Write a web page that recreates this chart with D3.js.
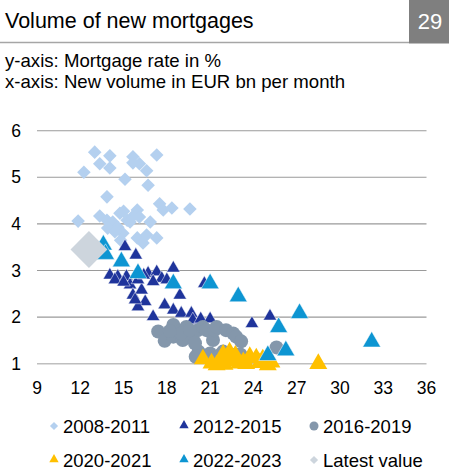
<!DOCTYPE html>
<html>
<head>
<meta charset="utf-8">
<script src="https://cdn.jsdelivr.net/npm/d3@7"></script>
<style>
  body { margin: 0; background: #fff; }
  svg { display: block; font-family: "Liberation Sans", Arial, sans-serif; }
</style>
</head>
<body>
<div id="chart"></div>
<script>
// series: [volume EUR bn, mortgage rate %]
const s2008 = [[13.0,5.54],[14.05,5.46],[13.35,5.29],[14.05,5.2],[12.25,5.11],[15.65,5.44],[16.1,5.29],[15.65,5.31],[17.3,5.48],[16.6,5.14],[15.1,4.96],[16.7,4.83],[13.85,4.58],[11.85,4.06],[13.35,4.17],[13.85,4.08],[14.75,4.23],[14.25,4.04],[15.25,4.08],[15.95,4.3],[16.1,4.15],[15.6,4.15],[14.6,3.93],[13.9,3.91],[14.95,3.8],[16.85,4.04],[17.5,4.43],[17.75,4.3],[18.35,4.34],[19.6,4.32],[15.95,3.7],[16.6,3.76],[17.3,3.7],[16.35,3.59],[14.8,3.65],[15.45,4.04],[14.4,3.83],[15.0,4.27]];
const s2012 = [[15.1,3.51],[15.85,3.33],[14.05,2.9],[14.6,2.87],[15.2,2.87],[15.45,2.69],[15.65,2.47],[16.25,2.58],[16.5,2.33],[16.0,2.22],[15.8,2.37],[16.7,2.94],[17.3,2.97],[17.65,2.83],[17.05,2.76],[18.45,3.05],[18.0,2.8],[18.9,2.47],[17.85,2.26],[18.45,2.15],[17.05,2.01],[19.0,2.08],[19.7,2.08],[19.8,1.94],[20.35,1.96],[21.0,1.96],[20.6,2.72],[23.9,1.86],[25.15,2.02],[14.4,2.8],[15.0,2.75],[16.0,2.8],[16.4,2.9]];
const s2016 = [[17.4,1.69],[17.85,1.49],[18.45,1.83],[18.45,1.58],[18.9,1.69],[19.1,1.51],[19.35,1.79],[19.8,1.55],[20.15,1.72],[20.5,1.79],[20.75,1.72],[21.2,1.51],[21.3,1.72],[21.45,1.79],[22.1,1.72],[22.6,1.65],[22.8,1.58],[23.15,1.48],[20.0,1.15],[20.2,1.26],[21.0,1.22],[21.7,1.19],[21.9,1.26],[22.8,1.2],[23.1,1.2],[25.6,1.35],[19.95,1.44],[19.0,1.65],[19.6,1.72],[18.2,1.7]];
const s2020 = [[20.5,1.1],[21.1,1.01],[21.45,0.97],[21.8,1.12],[21.9,1.2],[22.1,1.05],[22.35,1.25],[22.5,1.12],[22.7,1.08],[22.75,1.18],[23.05,1.01],[23.3,1.04],[23.75,1.15],[24.2,1.12],[24.45,1.02],[24.65,1.1],[25.0,0.97],[25.25,1.03],[28.5,1.0],[22.0,0.98],[23.5,1.0]];
const s2022 = [[13.6,3.55],[13.75,3.35],[14.85,3.19],[16.0,2.94],[18.45,2.72],[21.0,2.72],[22.95,2.44],[27.2,2.08],[25.75,1.78],[26.25,1.28],[25.0,1.18],[32.2,1.47]];
const latest = [[12.6,3.45]];

const xTicks = [9, 12, 15, 18, 21, 24, 27, 30, 33, 36];
const yTicks = [1, 2, 3, 4, 5, 6];
const legendLabels = ["2008-2011", "2012-2015", "2016-2019", "2020-2021", "2022-2023", "Latest value"];

const width = 449, height = 469;

const svg = d3.select("#chart").append("svg")
  .attr("width", width)
  .attr("height", height);

// header
svg.append("text")
  .attr("x", 5).attr("y", 28)
  .style("font-size", "21.5px")
  .style("fill", "#000")
  .text("Volume of new mortgages");

svg.append("line")
  .attr("x1", 0).attr("x2", 409)
  .attr("y1", 42.5).attr("y2", 42.5)
  .style("stroke", "#a6a6a6")
  .style("stroke-width", 1.5);

svg.append("rect")
  .attr("x", 409).attr("y", 0)
  .attr("width", 40).attr("height", 43.5)
  .style("fill", "#7f7f7f");

svg.append("text")
  .attr("x", 430).attr("y", 28.5)
  .attr("text-anchor", "middle")
  .style("font-size", "22px")
  .style("fill", "#fff")
  .text("29");

svg.append("text")
  .attr("x", 5).attr("y", 67)
  .style("font-size", "18.6px")
  .text("y-axis: Mortgage rate in %");

svg.append("text")
  .attr("x", 5).attr("y", 87.5)
  .style("font-size", "18.6px")
  .text("x-axis: New volume in EUR bn per month");

// scales
const x = d3.scaleLinear().domain([9, 36]).range([37, 426.5]);
const y = d3.scaleLinear().domain([1, 6]).range([363.7, 130.7]);

// gridlines
svg.append("g")
  .selectAll("line")
  .data(yTicks)
  .enter()
  .append("line")
  .attr("x1", x(9)).attr("x2", x(36))
  .attr("y1", d => y(d)).attr("y2", d => y(d))
  .style("stroke", d => d === 1 ? "#bfbfbf" : "#9a9a9a")
  .style("stroke-width", d => d === 1 ? 1.6 : 1.1);

// tick labels
svg.append("g")
  .selectAll("text")
  .data(yTicks)
  .enter()
  .append("text")
  .attr("x", 21)
  .attr("y", d => y(d) + 6)
  .attr("text-anchor", "end")
  .style("font-size", "17.5px")
  .text(d => d);

svg.append("g")
  .selectAll("text")
  .data(xTicks)
  .enter()
  .append("text")
  .attr("x", d => x(d))
  .attr("y", 393.5)
  .attr("text-anchor", "middle")
  .style("font-size", "17.5px")
  .text(d => d);

// markers
const diamond = d3.symbol().type(d3.symbolSquare);
const tri = d3.symbol().type(d3.symbolTriangle);

function drawSeries(data, shape, size, color, rotate, strokeW) {
  svg.append("g")
    .selectAll("path")
    .data(data)
    .enter()
    .append("path")
    .attr("d", shape.size(size)())
    .attr("transform", d => `translate(${x(d[0])},${y(d[1])})` + (rotate ? " rotate(45)" : ""))
    .style("fill", color)
    .style("stroke", strokeW ? "#fff" : "none")
    .style("stroke-width", strokeW);
}

drawSeries(s2008, diamond, 92, "#b4d0ef", true, 0);
drawSeries(s2012, tri, 78, "#1f349b", false, 0.5);

svg.append("g")
  .selectAll("circle")
  .data(s2016)
  .enter()
  .append("circle")
  .attr("cx", d => x(d[0]))
  .attr("cy", d => y(d[1]))
  .attr("r", 7)
  .style("fill", "#8497ab");

drawSeries(s2020, tri, 140, "#ffc000", false, 0);
drawSeries(s2022, tri, 140, "#0d95d2", false, 0.5);
drawSeries(latest, diamond, 680, "#cdd5dd", true, 0);

// legend
const legendX = [54, 184, 314];
const legendY = [426, 460];
const legendShapes = [
  { shape: "diamond", color: "#b4d0ef" },
  { shape: "tri", color: "#1f349b" },
  { shape: "circle", color: "#8497ab" },
  { shape: "tri", color: "#ffc000" },
  { shape: "tri", color: "#0d95d2" },
  { shape: "diamond", color: "#cdd5dd" }
];

const legend = svg.append("g")
  .selectAll("g")
  .data(legendLabels)
  .enter()
  .append("g")
  .attr("transform", (d, i) => `translate(${legendX[i % 3]},${legendY[Math.floor(i / 3)]})`);

legend.each(function(d, i) {
  const g = d3.select(this);
  const s = legendShapes[i];
  if (s.shape === "circle") {
    g.append("circle").attr("r", 4.5).style("fill", s.color);
  } else if (s.shape === "diamond") {
    g.append("path").attr("d", diamond.size(34)()).attr("transform", "rotate(45)").style("fill", s.color);
  } else {
    g.append("path").attr("d", tri.size(38)()).attr("transform", "translate(0,-0.5)").style("fill", s.color);
  }
  g.append("text")
    .attr("x", 9)
    .attr("y", 6.5)
    .style("font-size", "18.5px")
    .text(d);
});
</script>
</body>
</html>
